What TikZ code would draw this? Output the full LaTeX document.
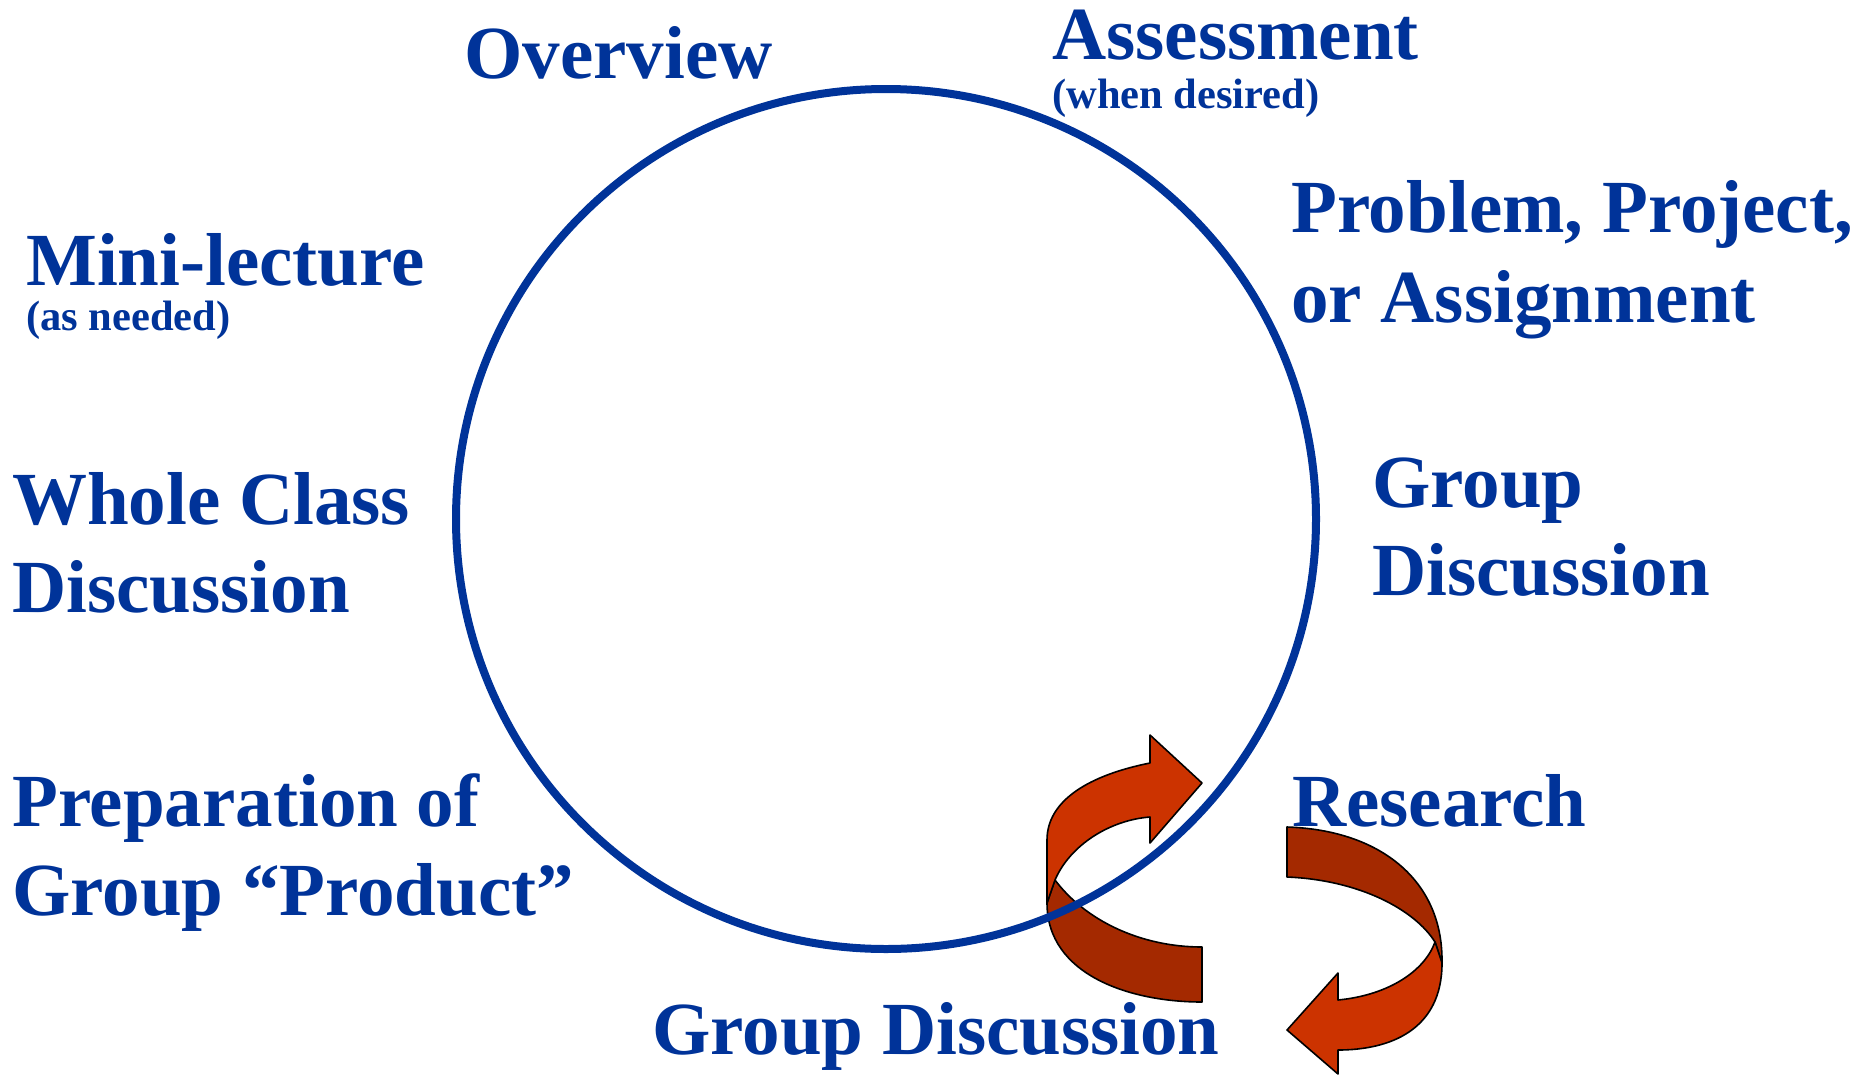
\documentclass[tikz,border=0pt]{standalone}
\usepackage{fontspec}
\setmainfont{Liberation Serif}
\definecolor{txtblue}{RGB}{0,51,153}
\definecolor{arrlight}{RGB}{204,51,0}
\definecolor{arrdark}{RGB}{164,41,0}
\tikzset{
  lbl/.style={anchor=base west, inner sep=0pt, text=txtblue, font=\bfseries\fontsize{75}{89}\selectfont},
  sublbl/.style={anchor=base west, inner sep=0pt, text=txtblue, font=\bfseries\fontsize{42.5}{50}\selectfont},
  ribbonlight/.style={fill=arrlight, draw=black, line width=1.6pt, line join=round},
  ribbondark/.style={fill=arrdark, draw=black, line width=1.6pt, line join=round},
  cyclering/.style={draw=txtblue, line width=8pt}
}
\begin{document}
\begin{tikzpicture}[x=1pt,y=-1pt]
\useasboundingbox (0,0) rectangle (1859,1076);
% dark part of first arrow (behind circle)
\path[ribbondark] (1055,880) .. controls (1085,920) and (1140,947) .. (1202,947)
  -- (1202,1002) .. controls (1130,1002) and (1047,975) .. (1047,903) -- cycle;
% circle
\node[cyclering, circle, minimum size=860pt, inner sep=0pt] (ring) at (886,519) {};
% light part of first arrow
\path[ribbonlight] (1150,763) -- (1150,735) -- (1202,783) -- (1150,843) -- (1150,817)
  .. controls (1110,820) and (1070,845) .. (1055,880) -- (1047,903) -- (1047,840)
  .. controls (1047,800) and (1090,775) .. (1150,763) -- cycle;
% second arrow
\path[ribbondark] (1287,827) .. controls (1380,830) and (1442,880) .. (1442,960)
  -- (1442,963) -- (1435,942) .. controls (1415,910) and (1360,880) .. (1287,877) -- cycle;
\path[ribbonlight] (1435,942) -- (1442,963) .. controls (1442,1030) and (1390,1050) .. (1338,1050)
  -- (1338,1074) -- (1287,1030) -- (1338,973) -- (1338,1000)
  .. controls (1390,995) and (1425,970) .. (1435,942) -- cycle;
% labels
\node[lbl] (overview) at (464,78) {Overview};
\node[lbl] (assess) at (1052,59) {Assessment};
\node[sublbl] (assesssub) at (1052,108) {(when desired)};
\node[lbl] (prob1) at (1291,232) {Problem, Project,};
\node[lbl] (prob2) at (1291,322) {or Assignment};
\node[lbl] (mini) at (26,285) {Mini-lecture};
\node[sublbl] (minisub) at (26,330) {(as needed)};
\node[lbl] (whole1) at (12,524) {Whole Class};
\node[lbl] (whole2) at (12,612) {Discussion};
\node[lbl] (grp1) at (1372,507) {Group};
\node[lbl] (grp2) at (1372,595) {Discussion};
\node[lbl] (prep1) at (12,826) {Preparation of};
\node[lbl] (prep2) at (12,915) {Group “Product”};
\node[lbl] (research) at (1292,826) {Research};
\node[lbl] (grpbottom) at (652,1054) {Group Discussion};
\end{tikzpicture}
\end{document}
